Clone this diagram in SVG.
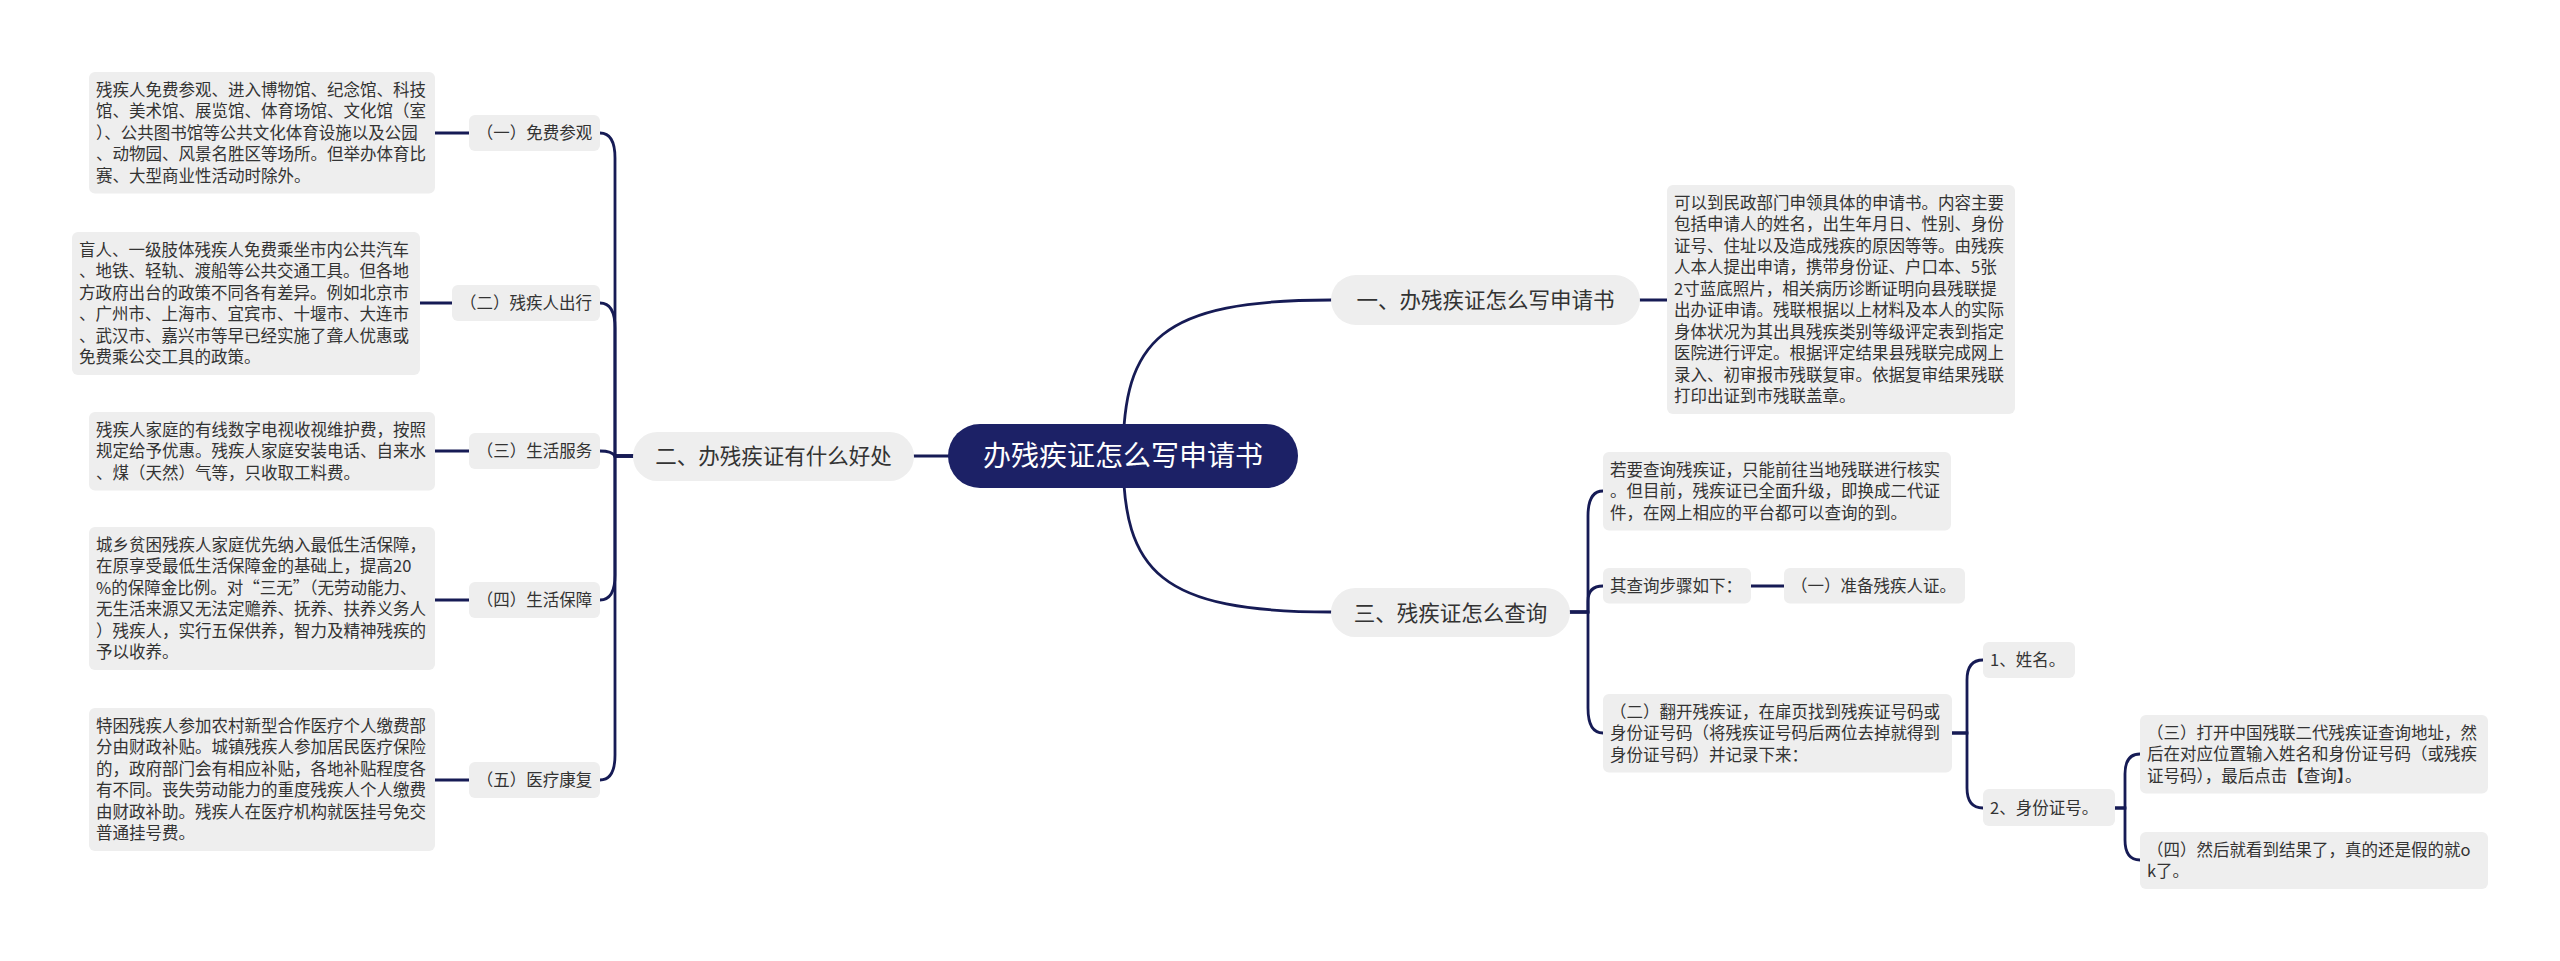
<svg xmlns="http://www.w3.org/2000/svg" width="2560" height="961" viewBox="0 0 2560 961">
<style>
.bx{fill:#eeeeee}
.t{font-family:"Noto Sans CJK SC","Microsoft YaHei",sans-serif;font-size:16.5px;fill:#333333}
.tb{font-family:"Noto Sans CJK SC","Microsoft YaHei",sans-serif;font-size:21.5px;fill:#333333}
.tc{font-family:"Noto Sans CJK SC","Microsoft YaHei",sans-serif;font-size:28px;fill:#ffffff}
.m{text-anchor:middle}
.ln{fill:none;stroke:#161b55;stroke-width:2.8;stroke-linecap:round}
</style>
<rect width="2560" height="961" fill="#ffffff"/>
<g id="connectors">
<path class="ln" d="M1123,456 C1123,340 1160,300 1331,300"/>
<path class="ln" d="M1123,456 C1123,572 1160,612 1331,612"/>
<path class="ln" d="M1123,456 H914"/>
<path class="ln" d="M633,456 H615 V158 Q615,133 600,133"/>
<path class="ln" d="M633,456 H615 V328 Q615,303 600,303"/>
<path class="ln" d="M633,456 H615 Q612,451 600,451"/>
<path class="ln" d="M633,456 H615 V575 Q615,600 600,600"/>
<path class="ln" d="M633,456 H615 V755 Q615,780 600,780"/>
<path class="ln" d="M469,133 H435"/>
<path class="ln" d="M452,303 H420"/>
<path class="ln" d="M469,451 H435"/>
<path class="ln" d="M469,600 H435"/>
<path class="ln" d="M469,780 H435"/>
<path class="ln" d="M1640,300 H1667"/>
<path class="ln" d="M1570,612 H1588 V516 Q1588,491 1603,491"/>
<path class="ln" d="M1570,612 H1588 V601 Q1588,586 1603,586"/>
<path class="ln" d="M1570,612 H1588 V708 Q1588,733 1603,733"/>
<path class="ln" d="M1751,586 H1784"/>
<path class="ln" d="M1952,733 H1967 V680 Q1967,660 1983,660"/>
<path class="ln" d="M1952,733 H1967 V788 Q1967,808 1983,808"/>
<path class="ln" d="M2115,808 H2125 V774 Q2125,754 2140,754"/>
<path class="ln" d="M2115,808 H2125 V840 Q2125,860 2140,860"/>
</g>
<g id="root">
<rect x="948" y="424" width="350" height="64" rx="32" fill="#1c2166"/>
<text class="tc m" x="1123" y="466">办残疾证怎么写申请书</text>
</g>
<g id="branch-2">
<rect class="bx" x="633" y="432" width="281" height="49" rx="24.5"/>
<text class="tb m" x="773.5" y="464">二、办残疾证有什么好处</text>
</g>
<g id="branch-1">
<rect class="bx" x="1331" y="275" width="309" height="50" rx="25"/>
<text class="tb m" x="1485.5" y="308">一、办残疾证怎么写申请书</text>
</g>
<g id="branch-3">
<rect class="bx" x="1331" y="588" width="239" height="49" rx="24.5"/>
<text class="tb m" x="1450.5" y="620.5">三、残疾证怎么查询</text>
</g>
<g id="label-1">
<rect class="bx" x="469" y="115" width="131" height="36" rx="6"/>
<text class="t m" x="534.5" y="139">（一）免费参观</text>
</g>
<g id="label-2">
<rect class="bx" x="452" y="285" width="148" height="36" rx="6"/>
<text class="t m" x="526" y="309">（二）残疾人出行</text>
</g>
<g id="label-3">
<rect class="bx" x="469" y="433" width="131" height="36" rx="6"/>
<text class="t m" x="534.5" y="457">（三）生活服务</text>
</g>
<g id="label-4">
<rect class="bx" x="469" y="582" width="131" height="36" rx="6"/>
<text class="t m" x="534.5" y="606">（四）生活保障</text>
</g>
<g id="label-5">
<rect class="bx" x="469" y="762" width="131" height="36" rx="6"/>
<text class="t m" x="534.5" y="786">（五）医疗康复</text>
</g>
<g id="box-1">
<rect class="bx" x="89" y="72" width="346" height="121.5" rx="6"/>
<text class="t" x="96" y="95.75"><tspan x="96">残疾人免费参观、进入博物馆、纪念馆、科技</tspan><tspan x="96" dy="21.5">馆、美术馆、展览馆、体育场馆、文化馆（室</tspan><tspan x="96" dy="21.5">）、公共图书馆等公共文化体育设施以及公园</tspan><tspan x="96" dy="21.5">、动物园、风景名胜区等场所。但举办体育比</tspan><tspan x="96" dy="21.5">赛、大型商业性活动时除外。</tspan></text>
</g>
<g id="box-2">
<rect class="bx" x="72" y="232" width="348" height="143" rx="6"/>
<text class="t" x="79" y="255.75"><tspan x="79">盲人、一级肢体残疾人免费乘坐市内公共汽车</tspan><tspan x="79" dy="21.5">、地铁、轻轨、渡船等公共交通工具。但各地</tspan><tspan x="79" dy="21.5">方政府出台的政策不同各有差异。例如北京市</tspan><tspan x="79" dy="21.5">、广州市、上海市、宜宾市、十堰市、大连市</tspan><tspan x="79" dy="21.5">、武汉市、嘉兴市等早已经实施了聋人优惠或</tspan><tspan x="79" dy="21.5">免费乘公交工具的政策。</tspan></text>
</g>
<g id="box-3">
<rect class="bx" x="89" y="412" width="346" height="78.5" rx="6"/>
<text class="t" x="96" y="435.75"><tspan x="96">残疾人家庭的有线数字电视收视维护费，按照</tspan><tspan x="96" dy="21.5">规定给予优惠。残疾人家庭安装电话、自来水</tspan><tspan x="96" dy="21.5">、煤（天然）气等，只收取工料费。</tspan></text>
</g>
<g id="box-4">
<rect class="bx" x="89" y="527" width="346" height="143" rx="6"/>
<text class="t" x="96" y="550.75"><tspan x="96">城乡贫困残疾人家庭优先纳入最低生活保障，</tspan><tspan x="96" dy="21.5">在原享受最低生活保障金的基础上，提高20</tspan><tspan x="96" dy="21.5">%的保障金比例。对“三无”（无劳动能力、</tspan><tspan x="96" dy="21.5">无生活来源又无法定赡养、抚养、扶养义务人</tspan><tspan x="96" dy="21.5">）残疾人，实行五保供养，智力及精神残疾的</tspan><tspan x="96" dy="21.5">予以收养。</tspan></text>
</g>
<g id="box-5">
<rect class="bx" x="89" y="708" width="346" height="143" rx="6"/>
<text class="t" x="96" y="731.75"><tspan x="96">特困残疾人参加农村新型合作医疗个人缴费部</tspan><tspan x="96" dy="21.5">分由财政补贴。城镇残疾人参加居民医疗保险</tspan><tspan x="96" dy="21.5">的，政府部门会有相应补贴，各地补贴程度各</tspan><tspan x="96" dy="21.5">有不同。丧失劳动能力的重度残疾人个人缴费</tspan><tspan x="96" dy="21.5">由财政补助。残疾人在医疗机构就医挂号免交</tspan><tspan x="96" dy="21.5">普通挂号费。</tspan></text>
</g>
<g id="box-apply">
<rect class="bx" x="1667" y="185" width="348" height="229" rx="6"/>
<text class="t" x="1674" y="208.75"><tspan x="1674">可以到民政部门申领具体的申请书。内容主要</tspan><tspan x="1674" dy="21.5">包括申请人的姓名，出生年月日、性别、身份</tspan><tspan x="1674" dy="21.5">证号、住址以及造成残疾的原因等等。由残疾</tspan><tspan x="1674" dy="21.5">人本人提出申请，携带身份证、户口本、5张</tspan><tspan x="1674" dy="21.5">2寸蓝底照片，相关病历诊断证明向县残联提</tspan><tspan x="1674" dy="21.5">出办证申请。残联根据以上材料及本人的实际</tspan><tspan x="1674" dy="21.5">身体状况为其出具残疾类别等级评定表到指定</tspan><tspan x="1674" dy="21.5">医院进行评定。根据评定结果县残联完成网上</tspan><tspan x="1674" dy="21.5">录入、初审报市残联复审。依据复审结果残联</tspan><tspan x="1674" dy="21.5">打印出证到市残联盖章。</tspan></text>
</g>
<g id="query-intro">
<rect class="bx" x="1603" y="452" width="348" height="78.5" rx="6"/>
<text class="t" x="1610" y="475.75"><tspan x="1610">若要查询残疾证，只能前往当地残联进行核实</tspan><tspan x="1610" dy="21.5">。但目前，残疾证已全面升级，即换成二代证</tspan><tspan x="1610" dy="21.5">件，在网上相应的平台都可以查询的到。</tspan></text>
</g>
<g id="query-steps">
<rect class="bx" x="1603" y="568" width="148" height="35.5" rx="6"/>
<text class="t" x="1610" y="592">其查询步骤如下：</text>
</g>
<g id="step-1">
<rect class="bx" x="1784" y="568" width="181" height="35.5" rx="6"/>
<text class="t" x="1791" y="592">（一）准备残疾人证。</text>
</g>
<g id="step-2">
<rect class="bx" x="1603" y="694" width="349" height="78.5" rx="6"/>
<text class="t" x="1610" y="717.75"><tspan x="1610">（二）翻开残疾证，在扉页找到残疾证号码或</tspan><tspan x="1610" dy="21.5">身份证号码（将残疾证号码后两位去掉就得到</tspan><tspan x="1610" dy="21.5">身份证号码）并记录下来：</tspan></text>
</g>
<g id="name">
<rect class="bx" x="1983" y="642" width="92" height="36" rx="6"/>
<text class="t" x="1990" y="666">1、姓名。</text>
</g>
<g id="idnum">
<rect class="bx" x="1983" y="789" width="132" height="37" rx="6"/>
<text class="t" x="1990" y="813.5">2、身份证号。</text>
</g>
<g id="step-3">
<rect class="bx" x="2140" y="715" width="348" height="78.5" rx="6"/>
<text class="t" x="2147" y="738.75"><tspan x="2147">（三）打开中国残联二代残疾证查询地址，然</tspan><tspan x="2147" dy="21.5">后在对应位置输入姓名和身份证号码（或残疾</tspan><tspan x="2147" dy="21.5">证号码），最后点击【查询】。</tspan></text>
</g>
<g id="step-4">
<rect class="bx" x="2140" y="832" width="348" height="57" rx="6"/>
<text class="t" x="2147" y="855.75"><tspan x="2147">（四）然后就看到结果了，真的还是假的就o</tspan><tspan x="2147" dy="21.5">k了。</tspan></text>
</g>
</svg>
